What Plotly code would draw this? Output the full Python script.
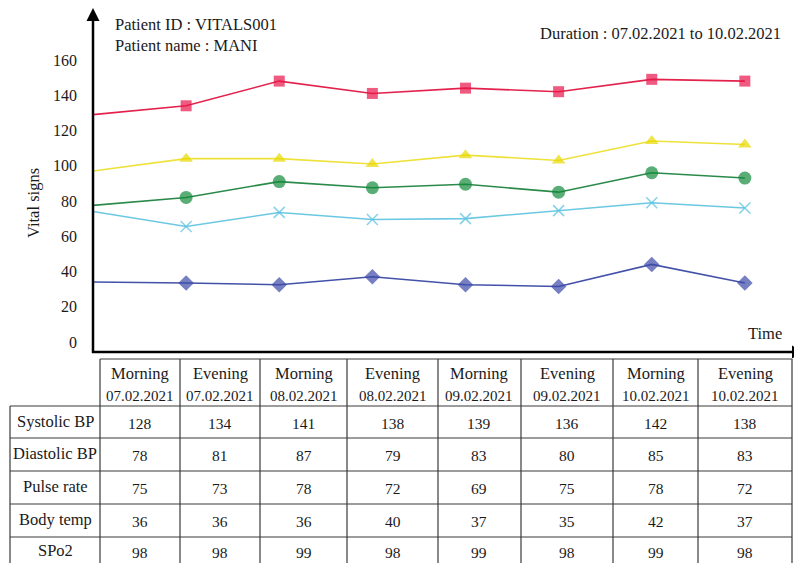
import plotly.graph_objects as go

# ---------------- data ----------------
periods = ["Morning", "Evening", "Morning", "Evening", "Morning", "Evening", "Morning", "Evening"]
dates = ["07.02.2021", "07.02.2021", "08.02.2021", "08.02.2021",
         "09.02.2021", "09.02.2021", "10.02.2021", "10.02.2021"]
categories = [f"{p} {d}" for p, d in zip(periods, dates)]

# values as drawn on the chart
plot_systolic = [129, 134, 148, 141, 144, 142, 149, 148]
plot_spo2 = [97, 104, 104, 101, 106, 103, 114, 112]
plot_diastolic = [77.5, 82, 91, 87.5, 89.5, 85, 96, 93]
plot_pulse = [74, 65.5, 73.5, 69.5, 70, 74.5, 79, 76]
plot_temp = [34, 33.5, 32.5, 37, 32.5, 31.5, 44, 33.5]

# values printed in the table
row_labels = ["Systolic BP", "Diastolic BP", "Pulse rate", "Body temp", "SPo2"]
table_systolic = [128, 134, 141, 138, 139, 136, 142, 138]
table_diastolic = [78, 81, 87, 79, 83, 80, 85, 83]
table_pulse = [75, 73, 78, 72, 69, 75, 78, 72]
table_temp = [36, 36, 36, 40, 37, 35, 42, 37]
table_spo2 = [98, 98, 99, 98, 99, 98, 99, 98]
table_rows = [table_systolic, table_diastolic, table_pulse, table_temp, table_spo2]

y_ticks = [0, 20, 40, 60, 80, 100, 120, 140, 160]

# ---------------- layout helpers ----------------
OFF = 8  # page body margin
W, H = 802 - OFF, 563 - OFF
PLOT_L, PLOT_R, PLOT_T, PLOT_B = 93, 797, 12, 352  # target window pixels
L = PLOT_L - OFF
T = PLOT_T - OFF
R = W - (PLOT_R - OFF)
B = H - (PLOT_B - OFF)
PW, PH = PLOT_R - PLOT_L, PLOT_B - PLOT_T
FONT = "Liberation Serif, Times New Roman, serif"


def px(x):
    return (x - PLOT_L) / PW


def py(y):
    return (PLOT_B - y) / PH


fig = go.Figure()

series = [
    (plot_systolic, "#e3224c", "#e8154a", "square", 11, 0),
    (plot_spo2, "#eee13a", "#e8d800", "triangle-up", 12, 0),
    (plot_diastolic, "#2a8a4a", "#138a3a", "circle", 13, 0),
    (plot_pulse, "#6cc8e2", "#55c0e0", "x-thin-open", 11, 1.6),
    (plot_temp, "#4352a8", "#3a48a6", "diamond", 12, 0),
]
for vals, lc, mc, sym, sz, mlw in series:
    sizes = [0] + [sz] * (len(vals) - 1)
    fig.add_trace(go.Scatter(
        x=categories, y=vals, mode="lines+markers",
        line=dict(color=lc, width=1.6),
        marker=dict(symbol=sym, size=sizes, color=mc,
                    line=dict(color=mc, width=mlw)),
        showlegend=False, hoverinfo="skip",
    ))

fig.update_xaxes(type="category", range=[0, 7.56], showticklabels=False,
                 showgrid=False, zeroline=False, showline=False, ticks="")
fig.update_yaxes(range=[-5.67, 187.2], tickvals=y_ticks, showgrid=False,
                 zeroline=False, showline=False, ticks="", ticklabelstandoff=15,
                 tickfont=dict(family=FONT, size=16, color="#1a1a1a"))

shapes = []


def pathp(points):
    return "M " + " L ".join(f"{px(a):.5f},{py(b):.5f}" for a, b in points) + " Z"


# axes with arrows
shapes.append(dict(type="line", xref="paper", yref="paper",
                   x0=px(93), y0=py(353), x1=px(93), y1=py(18),
                   line=dict(color="black", width=2.5)))
shapes.append(dict(type="line", xref="paper", yref="paper",
                   x0=px(92), y0=py(352), x1=px(794), y1=py(352),
                   line=dict(color="black", width=2.5)))
shapes.append(dict(type="path", xref="paper", yref="paper",
                   path=pathp([(93, 8), (86.5, 21), (99.5, 21)]),
                   fillcolor="black", line=dict(width=0)))
shapes.append(dict(type="path", xref="paper", yref="paper",
                   path=pathp([(802, 352), (792, 345.5), (792, 358.5)]),
                   fillcolor="black", line=dict(width=0)))

# table grid
col_edges = [100, 180, 260, 347, 438, 521, 613, 698, 792]
label_left = 10
row_edges = [359, 406, 438, 471, 504, 537, 572]
gc = "#3a3a3a"
gw = 1.2
shapes.append(dict(type="line", xref="paper", yref="paper",
                   x0=px(col_edges[0]), y0=py(row_edges[0]),
                   x1=px(col_edges[-1]), y1=py(row_edges[0]),
                   line=dict(color=gc, width=gw)))
for ry in row_edges[1:]:
    shapes.append(dict(type="line", xref="paper", yref="paper",
                       x0=px(label_left), y0=py(ry), x1=px(col_edges[-1]), y1=py(ry),
                       line=dict(color=gc, width=gw)))
shapes.append(dict(type="line", xref="paper", yref="paper",
                   x0=px(label_left), y0=py(row_edges[1]),
                   x1=px(label_left), y1=py(row_edges[-1]),
                   line=dict(color=gc, width=gw)))
for cx in col_edges:
    shapes.append(dict(type="line", xref="paper", yref="paper",
                       x0=px(cx), y0=py(row_edges[0]), x1=px(cx), y1=py(row_edges[-1]),
                       line=dict(color=gc, width=gw)))

fig.update_layout(shapes=shapes)


def text(x, y, s, size=15, xanchor="center", **kw):
    fig.add_annotation(xref="paper", yref="paper", x=px(x), y=py(y), text=s,
                       showarrow=False, xanchor=xanchor, yanchor="middle",
                       font=dict(family=FONT, size=size, color="#1a1a1a"), **kw)


# header cells
for i, (p, d) in enumerate(zip(periods, dates)):
    cx = (col_edges[i] + col_edges[i + 1]) / 2
    text(cx, 373, p, size=16.5)
    text(cx, 396, d, size=15)

# body cells
for r, (lab, vals) in enumerate(zip(row_labels, table_rows)):
    cy = (row_edges[r + 1] + row_edges[r + 2]) / 2
    if r == 4:
        cy = 551
    text((label_left + col_edges[0]) / 2, cy - 1, lab, size=16.5)
    for i, v in enumerate(vals):
        cx = (col_edges[i] + col_edges[i + 1]) / 2
        text(cx, cy + 1, str(v), size=15.5)

# titles
text(113, 25, "Patient ID : VITALS001", size=16.5, xanchor="left")
text(113, 46, "Patient name : MANI", size=16.5, xanchor="left")
text(783, 33, "Duration : 07.02.2021 to 10.02.2021", size=16.5, xanchor="right")
text(765, 333, "Time", size=16.5)
text(33, 203, "Vital signs", size=16.5, textangle=-90)

fig.update_layout(
    width=W, height=H,
    margin=dict(l=L, r=R, t=T, b=B, pad=0),
    paper_bgcolor="white", plot_bgcolor="white",
    showlegend=False,
)

fig.write_html("out.html")
